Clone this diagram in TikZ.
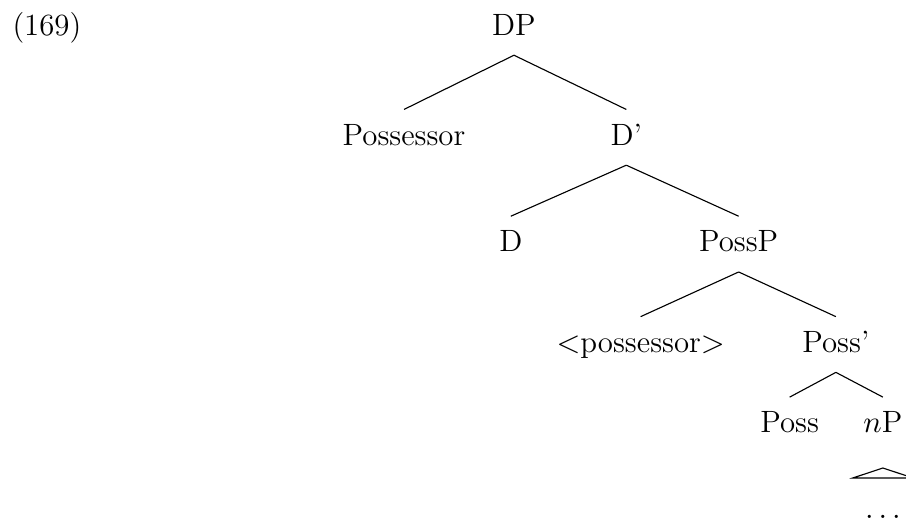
\documentclass[tikz,border=0pt]{standalone}
\usetikzlibrary{calc}
\tikzset{
  cat/.style = {anchor=base, text height=7.5pt, text depth=2pt, inner xsep=0pt, inner ysep=5pt},
  exnum/.style = {anchor=base west, inner sep=0pt}
}

\begin{document}
\begin{tikzpicture}[font=\fontsize{11pt}{13pt}\selectfont]
  \useasboundingbox (0,0) rectangle (11.37cm,-6.55cm);
  \node (N) at (0.15cm,-0.44cm) [exnum] {(169)};
  \node (DP) at (6.45cm,-0.44cm) [cat] {DP};
  \node (Pr) at (5.07cm,-1.82cm) [cat] {Possessor};
  \node (Dbar) at (7.86cm,-1.82cm) [cat] {D'};
  \node (D) at (6.41cm,-3.16cm) [cat] {D};
  \node (PossP) at (9.27cm,-3.16cm) [cat] {PossP};
  \node (tr) at (8.04cm,-4.42cm) [cat] {$<$possessor$>$};
  \node (Possbar) at (10.49cm,-4.42cm) [cat] {Poss'};
  \node (Poss) at (9.91cm,-5.43cm) [cat] {Poss};
  \node (nP) at (11.08cm,-5.43cm) [cat] {$n$P};
  \node (dots) at (11.08cm,-6.51cm) [cat] {$\ldots$};
  \draw (DP.south) -- (Pr.north);
  \draw (DP.south) -- (Dbar.north);
  \draw (Dbar.south) -- (D.north);
  \draw (Dbar.south) -- (PossP.north);
  \draw (PossP.south) -- (tr.north);
  \draw (PossP.south) -- (Possbar.north);
  \draw (Possbar.south) -- (Poss.north);
  \draw (Possbar.south) -- (nP.north);
  \draw (nP.south) ++(0,-0.19cm) -- ++(-0.377cm,-0.125cm) -- ++(0.754cm,0) -- cycle;
\end{tikzpicture}
\end{document}
